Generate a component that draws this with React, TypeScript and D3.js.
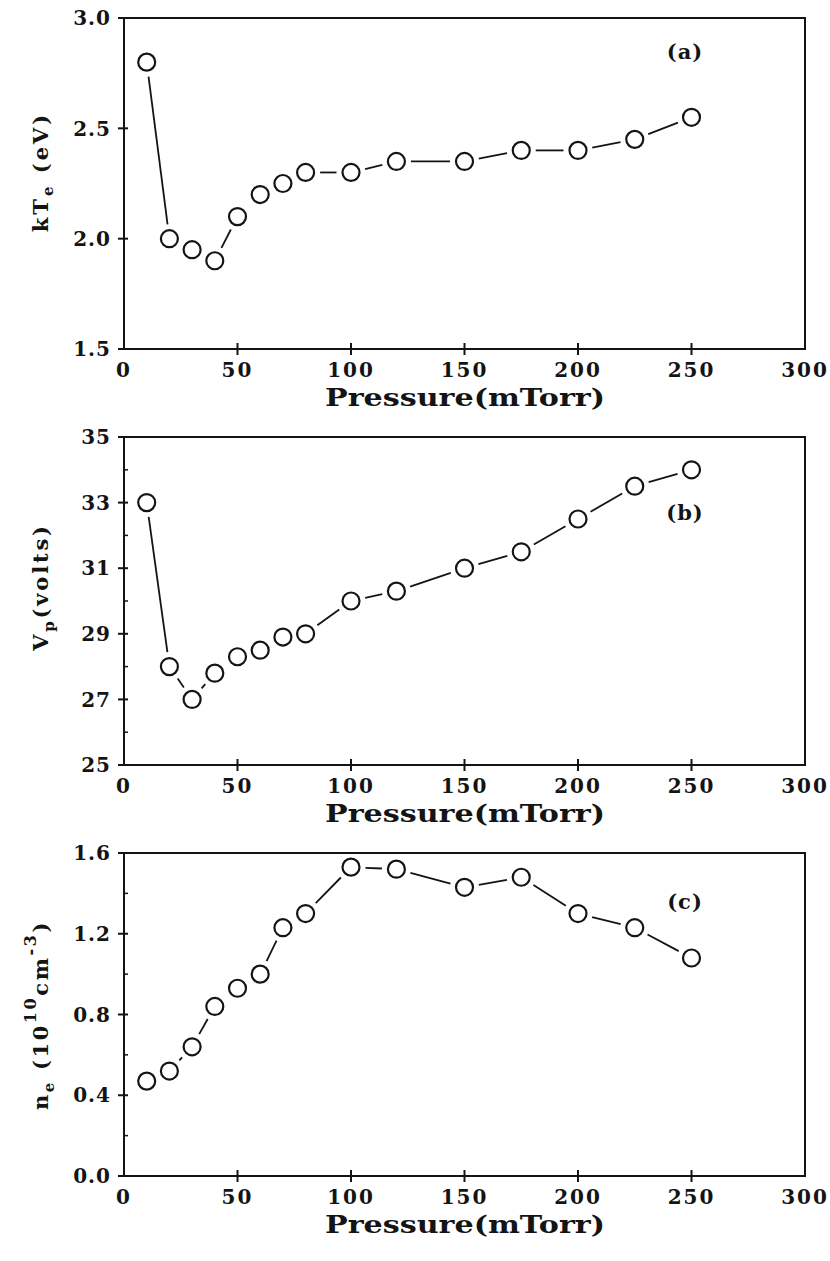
import React from "react";
import * as d3 from "d3";

const pressure = [10, 20, 30, 40, 50, 60, 70, 80, 100, 120, 150, 175, 200, 225, 250];
const kTe = [2.8, 2.0, 1.95, 1.9, 2.1, 2.2, 2.25, 2.3, 2.3, 2.35, 2.35, 2.4, 2.4, 2.45, 2.55];
const Vp = [33.0, 28.0, 27.0, 27.8, 28.3, 28.5, 28.9, 29.0, 30.0, 30.3, 31.0, 31.5, 32.5, 33.5, 34.0];
const ne = [0.47, 0.52, 0.64, 0.84, 0.93, 1.0, 1.23, 1.3, 1.53, 1.52, 1.43, 1.48, 1.3, 1.23, 1.08];

const xTicks = [0, 50, 100, 150, 200, 250, 300];
const kTeTicks = [1.5, 2.0, 2.5, 3.0];
const VpTicks = [25, 27, 29, 31, 33, 35];
const VpMinor = [26, 28, 30, 32, 34];
const neTicks = [0.0, 0.4, 0.8, 1.2, 1.6];
const neMinor = [0.2, 0.6, 1.0, 1.4];

const FONT = "'DejaVu Serif', 'Liberation Serif', serif";
const INK = "#141414";

type PanelProps = {
  values: number[];
  domain: [number, number];
  ticks: number[];
  minor: number[];
  fmt: (v: number) => string;
  top: number;
  bottom: number;
  tag: string;
  tagY: number;
  labelY: number;
  labelLen: number;
  ylabel: React.ReactNode;
};

const X0 = 124;
const X1 = 805;
const R = 8.5;

function Panel({ values, domain, ticks, minor, fmt, top, bottom, tag, tagY, labelY, labelLen, ylabel }: PanelProps) {
  const x = d3.scaleLinear().domain([0, 300]).range([X0, X1]);
  const y = d3.scaleLinear().domain(domain).range([bottom, top]);
  const pts = pressure.map((p, i) => [x(p), y(values[i])] as [number, number]);
  const gap = R + 6;
  const segs = pts.slice(1).map((b, i) => {
    const a = pts[i];
    const dx = b[0] - a[0];
    const dy = b[1] - a[1];
    const len = Math.hypot(dx, dy);
    if (len <= 2 * gap + 3) return null;
    const ux = dx / len, uy = dy / len;
    return [a[0] + ux * gap, a[1] + uy * gap, b[0] - ux * gap, b[1] - uy * gap];
  });
  return (
    <g>
      <rect x={X0} y={top} width={X1 - X0} height={bottom - top} fill="none" stroke={INK} strokeWidth={2} />
      {ticks.map((t) => (
        <g key={"yt" + t}>
          <line x1={X0 - 6} x2={X0 + 4} y1={y(t)} y2={y(t)} stroke={INK} strokeWidth={2} />
          <text x={X0 - 13} y={y(t)} dy="0.36em" textAnchor="end" fontFamily={FONT} fontWeight="bold" fontSize={20} letterSpacing={1} fill={INK}>
            {fmt(t)}
          </text>
        </g>
      ))}
      {minor.map((t) => (
        <line key={"ym" + t} x1={X0} x2={X0 + 4} y1={y(t)} y2={y(t)} stroke={INK} strokeWidth={1.5} />
      ))}
      {xTicks.map((t) => (
        <g key={"xt" + t}>
          {t > 0 && t < 300 && (
            <line x1={x(t)} x2={x(t)} y1={bottom - 6} y2={bottom + 6} stroke={INK} strokeWidth={2} />
          )}
          <text x={x(t)} y={bottom + 21} textAnchor="middle" dy="0.36em" fontFamily={FONT} fontWeight="bold" fontSize={20} letterSpacing={2} fill={INK}>
            {t}
          </text>
        </g>
      ))}
      <text x={465} y={bottom + 48} dy="0.36em" textAnchor="middle" fontFamily={FONT} fontWeight="bold" fontSize={24} textLength={280} lengthAdjust="spacingAndGlyphs" fill={INK}>
        Pressure(mTorr)
      </text>
      <text transform={`translate(48,${labelY}) rotate(-90)`} textAnchor="middle" fontFamily={FONT} fontWeight="bold" fontSize={21} letterSpacing={labelLen} fill={INK}>
        {ylabel}
      </text>
      <text x={685} y={tagY} dy="0.36em" textAnchor="middle" fontFamily={FONT} fontWeight="bold" fontSize={21} letterSpacing={1} fill={INK}>
        {tag}
      </text>
      {segs.map((s, i) =>
        s ? <line key={"s" + i} x1={s[0]} y1={s[1]} x2={s[2]} y2={s[3]} stroke={INK} strokeWidth={1.8} /> : null
      )}
      {pts.map((p, i) => (
        <circle key={"c" + i} cx={p[0]} cy={p[1]} r={R} fill="white" stroke={INK} strokeWidth={2.2} />
      ))}
    </g>
  );
}

export default function App() {
  return (
    <svg width={830} height={1261} style={{ position: "absolute", left: 0, top: 0, background: "white" }}>
      <Panel
        values={kTe}
        domain={[1.5, 3.0]}
        ticks={kTeTicks}
        minor={[]}
        fmt={d3.format(".1f")}
        top={18}
        bottom={349}
        tag="(a)"
        tagY={51}
        labelY={172}
        labelLen={3}
        ylabel={
          <>
            <tspan>kT</tspan>
            <tspan fontSize={15} dy={5}>e</tspan>
            <tspan dy={-5}> (eV)</tspan>
          </>
        }
      />
      <Panel
        values={Vp}
        domain={[25, 35]}
        ticks={VpTicks}
        minor={VpMinor}
        fmt={d3.format("d")}
        top={437}
        bottom={765}
        tag="(b)"
        tagY={512}
        labelY={587}
        labelLen={2.8}
        ylabel={
          <>
            <tspan>V</tspan>
            <tspan fontSize={15} dy={6}>p</tspan>
            <tspan dy={-6}>(volts)</tspan>
          </>
        }
      />
      <Panel
        values={ne}
        domain={[0, 1.6]}
        ticks={neTicks}
        minor={neMinor}
        fmt={d3.format(".1f")}
        top={853}
        bottom={1176}
        tag="(c)"
        tagY={901}
        labelY={1015}
        labelLen={2.6}
        ylabel={
          <>
            <tspan>n</tspan>
            <tspan fontSize={15} dy={6}>e</tspan>
            <tspan dy={-6}> (10</tspan>
            <tspan fontSize={16} dy={-12}>10</tspan>
            <tspan dy={12}>cm</tspan>
            <tspan fontSize={16} dy={-12}>-3</tspan>
            <tspan dy={12}>)</tspan>
          </>
        }
      />
    </svg>
  );
}
